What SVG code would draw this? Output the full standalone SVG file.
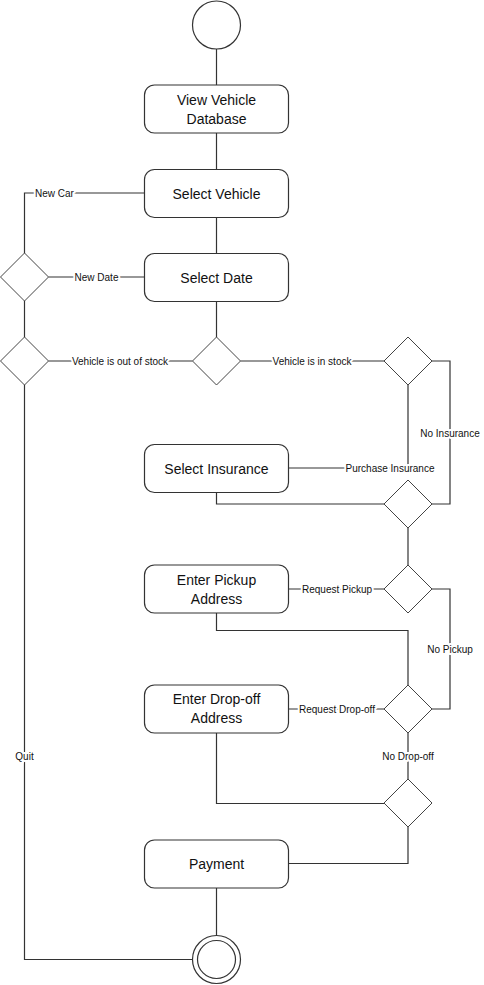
<svg xmlns="http://www.w3.org/2000/svg" width="484" height="985" viewBox="0 0 484 985">
<style>
.bg{fill:#fff}
.n{fill:#fff;stroke:#333;stroke-width:1.2}
.d{fill:#fff;stroke:#444;stroke-width:1}
.c{fill:none;stroke:#333;stroke-width:1.2}
.t{font-family:"Liberation Sans",Arial,sans-serif;font-size:14px;fill:#111;text-anchor:middle;dominant-baseline:central}
.l{font-family:"Liberation Sans",Arial,sans-serif;font-size:10px;fill:#111;text-anchor:middle;dominant-baseline:central;stroke:#fff;stroke-width:4;paint-order:stroke;stroke-linejoin:round}
</style>
<rect class="bg" x="0" y="0" width="484" height="985"/>
<g id="connectors">
<path class="c" d="M216.5 49V85"/>
<path class="c" d="M216.5 133V169.5"/>
<path class="c" d="M216.5 217.5V253.5"/>
<path class="c" d="M216.5 301.5V337"/>
<path class="c" d="M144.5 193H24.5V253"/>
<path class="c" d="M48.5 277H144.5"/>
<path class="c" d="M24.5 301V337"/>
<path class="c" d="M48.5 361H192.5"/>
<path class="c" d="M24.5 385V959.5H192.5"/>
<path class="c" d="M240.5 361H384"/>
<path class="c" d="M432 361H450V504H432"/>
<path class="c" d="M408 385V468H288.5"/>
<path class="c" d="M216.5 492.5V504H384"/>
<path class="c" d="M408 528V565"/>
<path class="c" d="M384 589H288.5"/>
<path class="c" d="M432 589H450V709H432"/>
<path class="c" d="M216.5 613V630.5H408V685"/>
<path class="c" d="M384 709H288.5"/>
<path class="c" d="M408 733V779"/>
<path class="c" d="M216.5 733V803.5H384"/>
<path class="c" d="M408 827V863.5H288.5"/>
<path class="c" d="M216.5 888V935.5"/>
<text class="l" x="54.5" y="193">New Car</text>
<text class="l" x="96.5" y="277">New Date</text>
<text class="l" x="120" y="361">Vehicle is out of stock</text>
<text class="l" x="24.5" y="756">Quit</text>
<text class="l" x="312" y="361">Vehicle is in stock</text>
<text class="l" x="450" y="433">No Insurance</text>
<text class="l" x="390" y="468">Purchase Insurance</text>
<text class="l" x="337" y="589">Request Pickup</text>
<text class="l" x="450" y="649">No Pickup</text>
<text class="l" x="337" y="709">Request Drop-off</text>
<text class="l" x="408" y="756">No Drop-off</text>
</g>
<g id="start"><circle class="n" cx="216.5" cy="25" r="24"/></g>
<g id="view"><rect class="n" x="144.5" y="85" width="144" height="48" rx="10"/><text class="t" x="216.5" y="100">View Vehicle</text><text class="t" x="216.5" y="119">Database</text></g>
<g id="selectVehicle"><rect class="n" x="144.5" y="169.5" width="144" height="48" rx="10"/><text class="t" x="216.5" y="193.5">Select Vehicle</text></g>
<g id="selectDate"><rect class="n" x="144.5" y="253.5" width="144" height="48" rx="10"/><text class="t" x="216.5" y="277.5">Select Date</text></g>
<g id="dLeft1"><path class="d" d="M24.5 253L48.5 277L24.5 301L0.5 277Z"/></g>
<g id="dLeft2"><path class="d" d="M24.5 337L48.5 361L24.5 385L0.5 361Z"/></g>
<g id="dStock"><path class="d" d="M216.5 337L240.5 361L216.5 385L192.5 361Z"/></g>
<g id="dIns"><path class="d" d="M408 337L432 361L408 385L384 361Z"/></g>
<g id="selectInsurance"><rect class="n" x="144.5" y="444.5" width="144" height="48" rx="10"/><text class="t" x="216.5" y="468.5">Select Insurance</text></g>
<g id="dInsMerge"><path class="d" d="M408 480L432 504L408 528L384 504Z"/></g>
<g id="dPickup"><path class="d" d="M408 565L432 589L408 613L384 589Z"/></g>
<g id="pickup"><rect class="n" x="144.5" y="565" width="144" height="48" rx="10"/><text class="t" x="216.5" y="580">Enter Pickup</text><text class="t" x="216.5" y="599">Address</text></g>
<g id="dDrop"><path class="d" d="M408 685L432 709L408 733L384 709Z"/></g>
<g id="dropoff"><rect class="n" x="144.5" y="685" width="144" height="48" rx="10"/><text class="t" x="216.5" y="699">Enter Drop-off</text><text class="t" x="216.5" y="718">Address</text></g>
<g id="dMerge"><path class="d" d="M408 779L432 803L408 827L384 803Z"/></g>
<g id="payment"><rect class="n" x="144.5" y="840" width="144" height="48" rx="10"/><text class="t" x="216.5" y="864">Payment</text></g>
<g id="end"><circle class="n" cx="216.5" cy="959.5" r="24"/><circle class="n" cx="216.5" cy="959.5" r="19"/></g>
</svg>
